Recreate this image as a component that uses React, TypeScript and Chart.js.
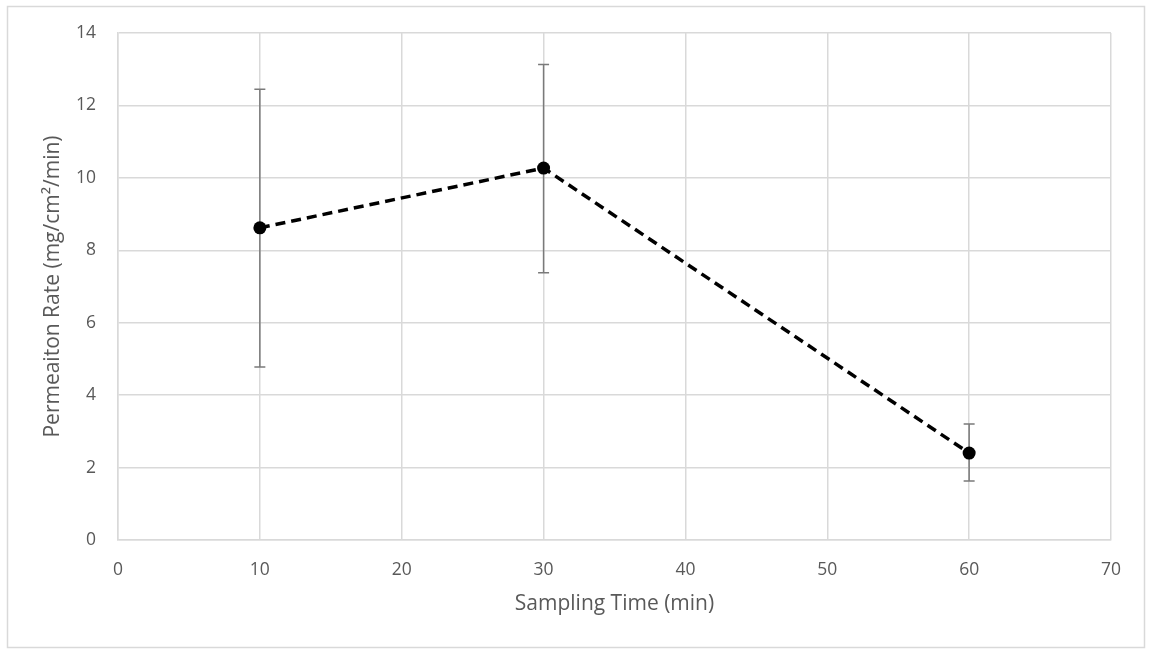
import React, { useEffect, useRef } from "react";
import { Chart, registerables } from "chart.js";

Chart.register(...registerables);

const samplingTimes = [10, 30, 60];
const permeationRate = [8.62, 10.27, 2.4];
const errorLow = [4.78, 7.38, 1.63];
const errorHigh = [12.45, 13.13, 3.2];

const xTitle = "Sampling Time (min)";
const yTitle = "Permeaiton Rate (mg/cm²/min)";

const FONT = "'Open Sans', sans-serif";
const TEXT = "#595959";
const GRID = "#d9d9d9";

const errorBarPlugin = {
  id: "errorBars",
  beforeDatasetsDraw(chart: any) {
    const { ctx, scales } = chart;
    const xs = scales.x;
    const ys = scales.y;
    ctx.save();
    ctx.strokeStyle = "#7a7a7a";
    ctx.lineWidth = 1.5;
    samplingTimes.forEach((t, i) => {
      const x = xs.getPixelForValue(t);
      const yTop = ys.getPixelForValue(errorHigh[i]);
      const yBot = ys.getPixelForValue(errorLow[i]);
      ctx.beginPath();
      ctx.moveTo(x, yTop);
      ctx.lineTo(x, yBot);
      ctx.moveTo(x - 5.5, yTop);
      ctx.lineTo(x + 5.5, yTop);
      ctx.moveTo(x - 5.5, yBot);
      ctx.lineTo(x + 5.5, yBot);
      ctx.stroke();
    });
    ctx.restore();
  },
};

const borderPlugin = {
  id: "outerBorder",
  beforeDraw(chart: any) {
    const { ctx, width, height } = chart;
    ctx.save();
    ctx.fillStyle = "#ffffff";
    ctx.fillRect(0, 0, width, height);
    ctx.strokeStyle = GRID;
    ctx.lineWidth = 1.5;
    ctx.strokeRect(7.5, 6.5, width - 15, height - 9);
    ctx.restore();
  },
};

export default function App() {
  const ref = useRef<HTMLCanvasElement | null>(null);

  useEffect(() => {
    document.body.style.margin = "0";
    const chart = new Chart(ref.current as HTMLCanvasElement, {
      type: "scatter",
      data: {
        datasets: [
          {
            data: samplingTimes.map((t, i) => ({ x: t, y: permeationRate[i] })),
            showLine: true,
            borderColor: "#000000",
            borderWidth: 3.5,
            borderDash: [10, 6],
            pointRadius: 6.5,
            pointBackgroundColor: "#000000",
            pointBorderColor: "#000000",
            pointBorderWidth: 0,
          },
        ],
      },
      options: {
        animation: false,
        responsive: false,
        layout: { padding: { left: 28, top: 33, right: 41, bottom: 20 } },
        plugins: { legend: { display: false }, tooltip: { enabled: false } },
        scales: {
          x: {
            type: "linear",
            min: 0,
            max: 70,
            ticks: { stepSize: 10, color: TEXT, font: { family: FONT, size: 17.5 }, padding: 20 },
            grid: { color: GRID, lineWidth: 1.5, drawTicks: false },
            border: { color: GRID, width: 1.5 },
            title: {
              display: true,
              text: xTitle,
              color: TEXT,
              font: { family: FONT, size: 21 },
              padding: { top: 0, bottom: 13 },
            },
            afterFit(axis: any) {
              axis.height = 90;
            },
          },
          y: {
            type: "linear",
            min: 0,
            max: 14,
            ticks: { stepSize: 2, color: TEXT, font: { family: FONT, size: 17.5 }, padding: 22 },
            grid: { color: GRID, lineWidth: 1.5, drawTicks: false },
            border: { color: GRID, width: 1.5 },
            title: {
              display: true,
              text: yTitle,
              color: TEXT,
              font: { family: FONT, size: 21 },
              padding: { top: 12, bottom: 0 },
            },
            afterFit(axis: any) {
              axis.width = 90;
            },
          },
        },
      },
      plugins: [errorBarPlugin, borderPlugin],
    });
    return () => chart.destroy();
  }, []);

  return (
    <div style={{ position: "fixed", left: 0, top: 0, width: 1152, height: 650 }}>
      <canvas ref={ref} width={1152} height={650} style={{ display: "block" }} />
    </div>
  );
}
